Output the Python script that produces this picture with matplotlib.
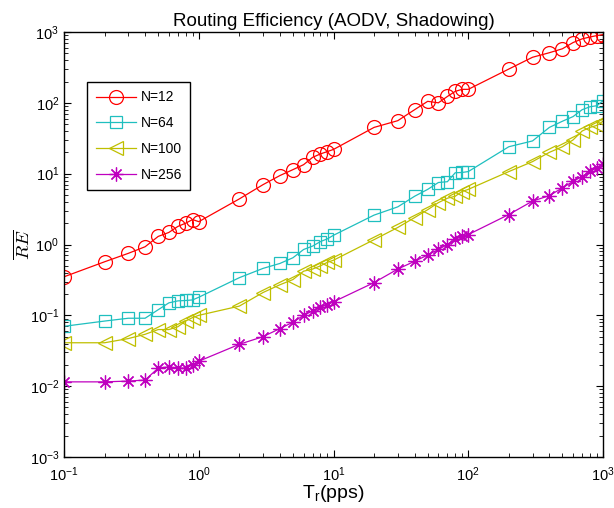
import matplotlib
matplotlib.use("Agg")
import matplotlib.pyplot as plt
import numpy as np

plt.rcParams["font.family"] = ["Liberation Sans", "DejaVu Sans"]

# offered traffic rate (pps)
tr = [0.1, 0.2, 0.3, 0.4, 0.5, 0.6, 0.7, 0.8, 0.9, 1,
      2, 3, 4, 5, 6, 7, 8, 9, 10,
      20, 30, 40, 50, 60, 70, 80, 90, 100,
      200, 300, 400, 500, 600, 700, 800, 900, 1000]

re_n12 = [0.35, 0.57, 0.75, 0.93, 1.3, 1.48, 1.8, 2.0, 2.25, 2.1,
          4.4, 7.0, 9.4, 11.4, 13.4, 17, 19, 20.5, 22,
          45, 56, 80, 105, 100, 123, 145, 155, 155,
          300, 440, 510, 580, 710, 800, 850, 890, 920]
re_n64 = [0.07, 0.083, 0.091, 0.091, 0.12, 0.15, 0.16, 0.162, 0.165, 0.18,
          0.34, 0.46, 0.54, 0.65, 0.85, 0.95, 1.1, 1.2, 1.35,
          2.6, 3.4, 4.8, 6.0, 7.5, 7.7, 10.3, 10.4, 10.7,
          24, 29, 45, 55, 64, 80, 88, 91, 107]
re_n100 = [0.041, 0.041, 0.047, 0.054, 0.063, 0.063, 0.069, 0.083, 0.093, 0.10,
           0.135, 0.21, 0.27, 0.32, 0.42, 0.45, 0.5, 0.56, 0.6,
           1.17, 1.74, 2.4, 3.1, 3.9, 4.5, 4.8, 5.6, 6.0,
           10.7, 14.8, 20, 24, 30, 40, 45, 48, 55]
re_n256 = [0.0115, 0.0115, 0.0118, 0.0122, 0.018, 0.0187, 0.018, 0.018, 0.020, 0.0225,
           0.039, 0.050, 0.065, 0.080, 0.10, 0.115, 0.13, 0.142, 0.155,
           0.29, 0.45, 0.58, 0.71, 0.85, 1.0, 1.18, 1.3, 1.38,
           2.65, 4.1, 4.9, 6.3, 7.8, 9.1, 10.8, 12, 13.8]

labels = ["N=12", "N=64", "N=100", "N=256"]
colors = ["#FF0000", "#1FBFBF", "#BFBF00", "#BF00BF"]
markers = ["o", "s", "<", (8, 2, 0)]
msizes = [10, 8.5, 10.5, 10]

fig = plt.figure(figsize=(6.14, 5.08), dpi=100)
ax = fig.add_axes([64 / 614, 51 / 508, 539 / 614, 425 / 508])

for ys, lab, c, m, ms in zip([re_n12, re_n64, re_n100, re_n256], labels, colors, markers, msizes):
    ax.plot(tr, ys, color=c, marker=m, markersize=ms, markerfacecolor="none",
            markeredgecolor=c, markeredgewidth=0.9, linewidth=0.9, label=lab)

ax.set_xscale("log")
ax.set_yscale("log")
ax.set_xlim(0.1, 1000)
ax.set_ylim(1e-3, 1e3)
ax.tick_params(which="both", direction="in", top=True, right=True, labelsize=10.5)
ax.tick_params(which="major", length=5)
ax.tick_params(which="minor", length=3)
ax.tick_params(axis="x", which="major", pad=6)
for sp in ax.spines.values():
    sp.set_linewidth(1.0)

ax.set_title("Routing Efficiency (AODV, Shadowing)", fontsize=13.5, pad=4)
ax.set_xlabel("T$_\\mathregular{r}$(pps)", fontsize=14, labelpad=-1)
ax.set_ylabel("$\\overline{RE}$", fontsize=13.5, math_fontfamily="cm", labelpad=-3)

leg = ax.legend(loc="upper left", bbox_to_anchor=(0.043, 0.882), fontsize=10,
                frameon=True, fancybox=False, framealpha=1, edgecolor="black",
                handlelength=2.9, handletextpad=0.35, labelspacing=0.85,
                borderpad=0.6, borderaxespad=0)
leg.get_frame().set_linewidth(1.0)

fig.savefig("out.png", dpi=100)
